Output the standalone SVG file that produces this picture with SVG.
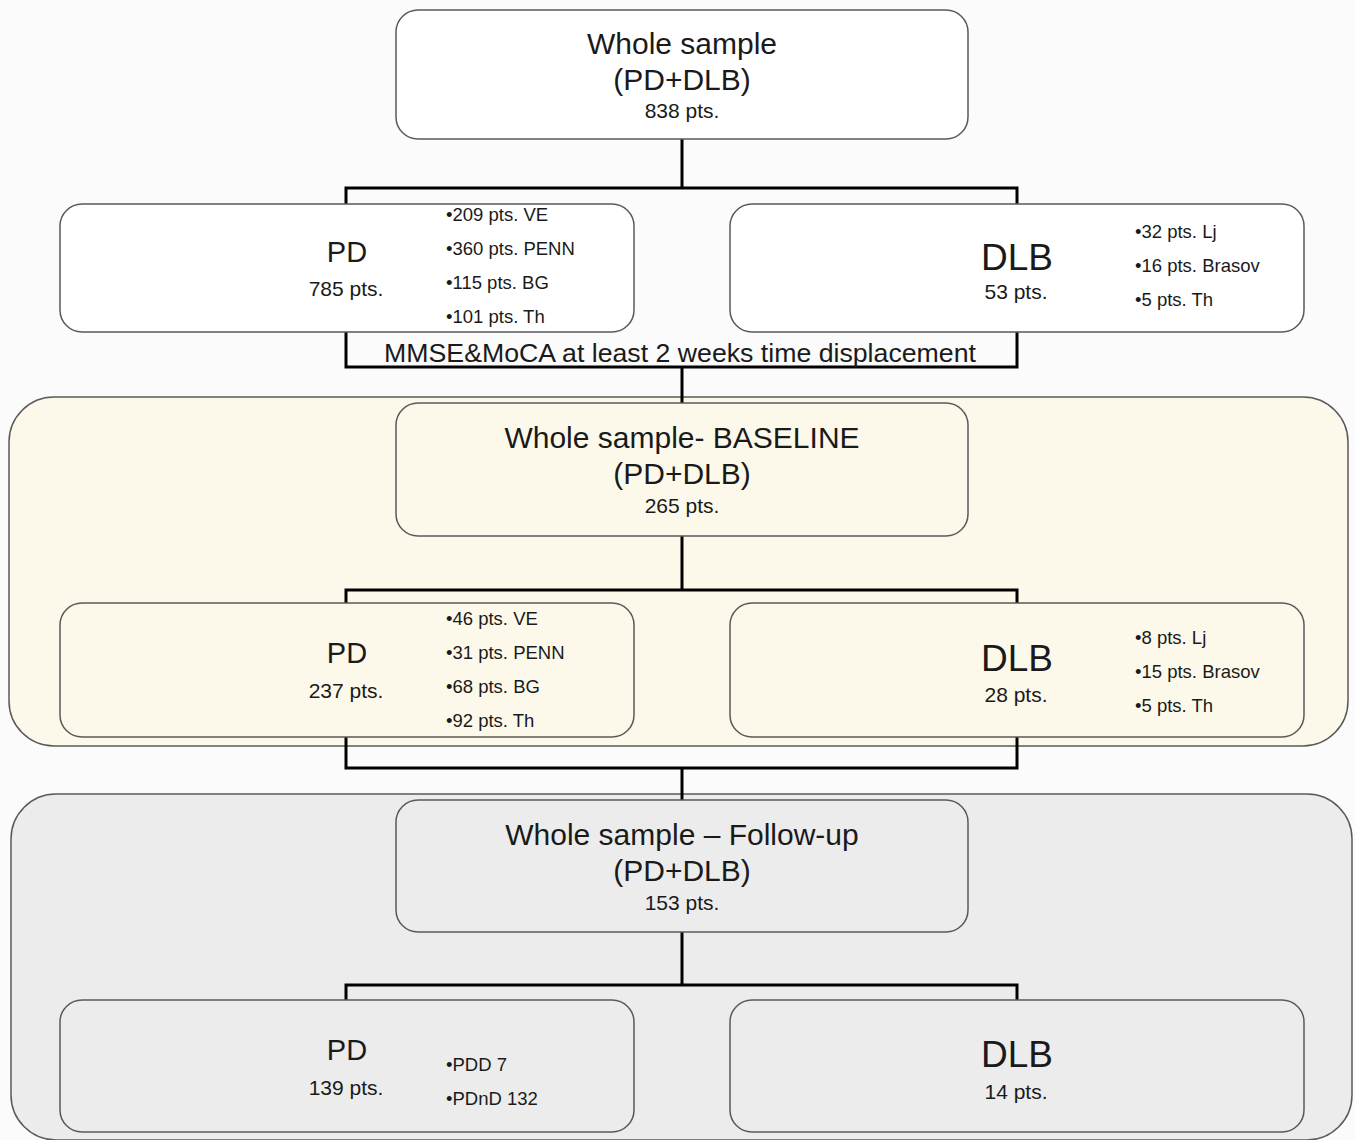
<svg xmlns="http://www.w3.org/2000/svg" width="1355" height="1140" viewBox="0 0 1355 1140">
<style>
text{font-family:"Liberation Sans",Arial,sans-serif;fill:#1a1a1a}
.box{stroke:#5a5a5a;stroke-width:1.5}
.panel{stroke:#5a5a5a;stroke-width:1.5}
.w{fill:#ffffff}.c{fill:#fcf9eb}.g{fill:#ececec}
.conn{fill:none;stroke:#000;stroke-width:3}
.t1{font-size:30px;text-anchor:middle}
.t2{font-size:21px;text-anchor:middle}
.pd{font-size:29px;text-anchor:middle}
.dlb{font-size:37px;text-anchor:middle}
.b{font-size:18.5px}
.mm{font-size:26.7px;text-anchor:middle}
</style>
<rect x="0" y="0" width="1355" height="1140" fill="#fbfbfb"/>
<g id="panel-baseline"><rect class="panel c" x="9" y="397" width="1339" height="349" rx="45"/></g>
<g id="panel-followup"><rect class="panel g" x="11" y="794" width="1341" height="346" rx="45"/></g>
<g id="connectors">
<path class="conn" d="M682 139V188M346 204V188H1017V204"/>
<path class="conn" d="M346 332V367H1017V332M682 367V403"/>
<path class="conn" d="M682 536V590M346 603V590H1017V603"/>
<path class="conn" d="M346 737V768H1017V737M682 768V800"/>
<path class="conn" d="M682 932V985M346 1000V985H1017V1000"/>
</g>
<g id="whole">
<rect class="box w" x="396" y="10" width="572" height="129" rx="22"/>
<text class="t1" x="682" y="54">Whole sample</text>
<text class="t1" x="682" y="90">(PD+DLB)</text>
<text class="t2" x="682" y="118">838 pts.</text>
</g>
<g id="pd1">
<rect class="box w" x="60" y="204" width="574" height="128" rx="22"/>
<text class="pd" x="347" y="262">PD</text>
<text class="t2" x="346" y="296">785 pts.</text>
<text class="b" x="446" y="221">•209 pts. VE</text>
<text class="b" x="446" y="255">•360 pts. PENN</text>
<text class="b" x="446" y="289">•115 pts. BG</text>
<text class="b" x="446" y="323">•101 pts. Th</text>
</g>
<g id="dlb1">
<rect class="box w" x="730" y="204" width="574" height="128" rx="22"/>
<text class="dlb" x="1017" y="270">DLB</text>
<text class="t2" x="1016" y="299">53 pts.</text>
<text class="b" x="1135" y="238">•32 pts. Lj</text>
<text class="b" x="1135" y="272">•16 pts. Brasov</text>
<text class="b" x="1135" y="306">•5 pts. Th</text>
</g>
<text id="mmse" class="mm" x="680" y="362">MMSE&amp;MoCA at least 2 weeks time displacement</text>
<g id="baseline">
<rect class="box c" x="396" y="403" width="572" height="133" rx="22"/>
<text class="t1" x="682" y="448">Whole sample- BASELINE</text>
<text class="t1" x="682" y="484">(PD+DLB)</text>
<text class="t2" x="682" y="513">265 pts.</text>
</g>
<g id="pd2">
<rect class="box c" x="60" y="603" width="574" height="134" rx="22"/>
<text class="pd" x="347" y="663">PD</text>
<text class="t2" x="346" y="698">237 pts.</text>
<text class="b" x="446" y="625">•46 pts. VE</text>
<text class="b" x="446" y="659">•31 pts. PENN</text>
<text class="b" x="446" y="693">•68 pts. BG</text>
<text class="b" x="446" y="727">•92 pts. Th</text>
</g>
<g id="dlb2">
<rect class="box c" x="730" y="603" width="574" height="134" rx="22"/>
<text class="dlb" x="1017" y="671">DLB</text>
<text class="t2" x="1016" y="702">28 pts.</text>
<text class="b" x="1135" y="644">•8 pts. Lj</text>
<text class="b" x="1135" y="678">•15 pts. Brasov</text>
<text class="b" x="1135" y="712">•5 pts. Th</text>
</g>
<g id="followup">
<rect class="box g" x="396" y="800" width="572" height="132" rx="22"/>
<text class="t1" x="682" y="845">Whole sample – Follow-up</text>
<text class="t1" x="682" y="881">(PD+DLB)</text>
<text class="t2" x="682" y="910">153 pts.</text>
</g>
<g id="pd3">
<rect class="box g" x="60" y="1000" width="574" height="132" rx="22"/>
<text class="pd" x="347" y="1060">PD</text>
<text class="t2" x="346" y="1095">139 pts.</text>
<text class="b" x="446" y="1071">•PDD 7</text>
<text class="b" x="446" y="1105">•PDnD 132</text>
</g>
<g id="dlb3">
<rect class="box g" x="730" y="1000" width="574" height="132" rx="22"/>
<text class="dlb" x="1017" y="1067">DLB</text>
<text class="t2" x="1016" y="1099">14 pts.</text>
</g>
</svg>
